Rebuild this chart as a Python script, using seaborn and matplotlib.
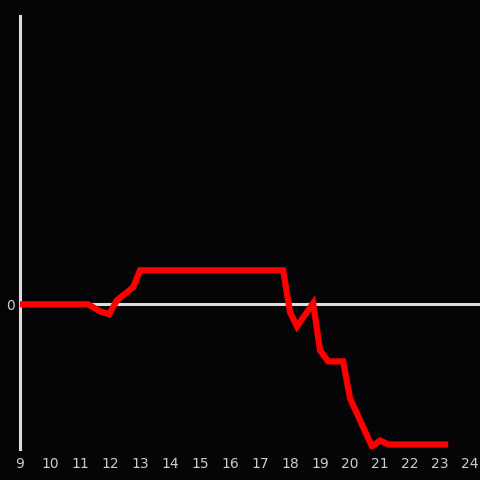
import matplotlib
matplotlib.use("Agg")
import matplotlib.pyplot as plt
import seaborn as sns
import pandas as pd

hours = [9.0, 11.27, 11.67, 11.97, 12.23, 12.77, 13.0, 17.77, 18.0, 18.23,
         18.77, 19.0, 19.27, 19.77, 20.0, 20.73, 21.0, 21.27, 23.27]
values = [0, 0, -7, -10, 4, 17, 34, 34, -8, -22,
          1, -46, -57, -57, -94, -142, -136, -140, -140]
x_ticks = list(range(9, 25))

df = pd.DataFrame({"hour": hours, "value": values})

sns.set_theme(style="dark")
bg = "#050508"
axis_col = "#dddddd"
text_col = "#cccccc"

fig = plt.figure(figsize=(4.8, 4.8), dpi=100, facecolor=bg)
ax = fig.add_axes([20/480, 1 - 449/480, 460/480, (449 - 16)/480])
ax.set_facecolor(bg)

ax.axhline(0, color=axis_col, lw=2.2, zorder=1)
sns.lineplot(data=df, x="hour", y="value", ax=ax, color="#ff0000", lw=4.5,
             zorder=3, solid_joinstyle="miter", solid_capstyle="butt")

ax.set_xlim(9, 24.33)
ax.set_ylim(-144.5, 288)
ax.set_xticks(x_ticks)
ax.set_xticklabels([str(t) for t in x_ticks])
ax.set_yticks([0])
ax.set_yticklabels(["0"])
ax.tick_params(axis="both", length=0, colors=text_col, labelsize=10)
ax.tick_params(axis="x", pad=6)
ax.tick_params(axis="y", pad=4)
for lab in ax.get_xticklabels() + ax.get_yticklabels():
    lab.set_color(text_col)
ax.grid(False)
for s in ["top", "right", "bottom"]:
    ax.spines[s].set_visible(False)
ax.spines["left"].set_color(axis_col)
ax.spines["left"].set_linewidth(2.2)
ax.set_xlabel("")
ax.set_ylabel("")

fig.savefig("out.png", dpi=100, facecolor=bg)
